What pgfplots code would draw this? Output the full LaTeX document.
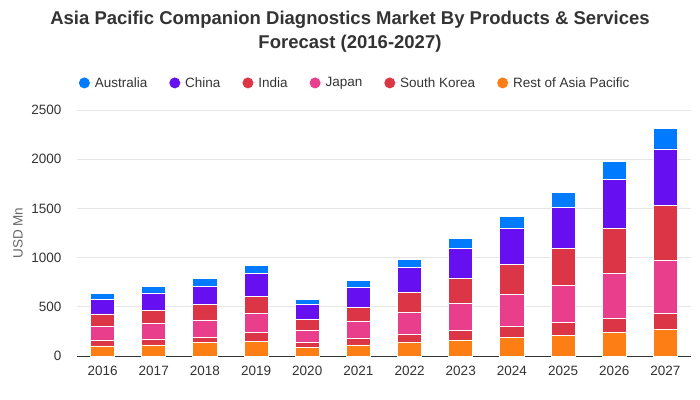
\documentclass[border=0pt]{standalone}
\usepackage{pgfplots}
\pgfplotsset{compat=1.18}
\usepackage{pgfplotstable}
\usepackage{fontspec}
\setmainfont{Liberation Sans}
\definecolor{cAus}{HTML}{007BFF}
\definecolor{cChina}{HTML}{6610F2}
\definecolor{cIndia}{HTML}{DC3545}
\definecolor{cJapan}{HTML}{E83E8C}
\definecolor{cSK}{HTML}{DC3545}
\definecolor{cRest}{HTML}{FD7E14}
\definecolor{txt}{HTML}{333333}
\definecolor{grd}{HTML}{E6E6E6}
\pgfplotstableread{
x rest sk japan india china aus
0 102 61 142 122 152 54
1 112 61 163 129 176 68
2 135 58 173 155 190 74
3 152 84 200 173 234 77
4 91 51 122 112 145 51
5 112 71 173 138 207 64
6 139 81 223 203 254 84
7 159 101 274 254 304 105
8 193 108 325 304 365 125
9 210 132 375 375 422 149
10 241 142 457 457 497 179
11 271 162 538 558 575 213
}\data
\begin{document}
\begin{tikzpicture}[font=\fontsize{13.5bp}{16bp}\selectfont]
\path[use as bounding box] (-77bp,-44bp) rectangle (623bp,356bp);
\begin{axis}[
  at={(0,0)}, anchor=south west,
  scale only axis, width=614bp, height=246bp,
  ybar stacked, bar width=0.47,
  xmin=-0.5, xmax=11.5, ymin=0, ymax=2500,
  xtick=data,
  xticklabels={2016,2017,2018,2019,2020,2021,2022,2023,2024,2025,2026,2027},
  ytick={0,500,1000,1500,2000,2500},
  /pgf/number format/assume math mode=true,
  yticklabel style={/pgf/number format/fixed, /pgf/number format/1000 sep={}, text=txt, xshift=-12bp},
  xticklabel style={text=txt, yshift=-7bp},
  major tick length=0pt,
  ymajorgrids, grid style={grd, line width=0.8bp},
  axis x line*=bottom, axis y line*=left,
  y axis line style={draw=none},
  x axis line style={txt, line width=1bp, -},
  ylabel={USD Mn}, ylabel style={text=black!60, at={(axis description cs:-0.096,0.5)}, anchor=center},
  every axis plot/.append style={draw=white, line width=0.8bp},
  reverse legend,
  legend columns=-1,
  legend style={draw=none, fill=none, at={(axis description cs:0.453,1.11)}, anchor=center,
    text=txt, /tikz/every even column/.append style={column sep=20bp}},
  legend image code/.code={\path (0bp,0bp) -- (13bp,0bp); \fill[#1, draw=none] (5bp,0bp) circle (5.5bp);},
]
\addplot[fill=cRest] table[x=x, y=rest] {\data};
\addplot[fill=cSK] table[x=x, y=sk] {\data};
\addplot[fill=cJapan] table[x=x, y=japan] {\data};
\addplot[fill=cIndia] table[x=x, y=india] {\data};
\addplot[fill=cChina] table[x=x, y=china] {\data};
\addplot[fill=cAus] table[x=x, y=aus] {\data};
\legend{Rest of Asia Pacific, South Korea, Japan, India, China, Australia}
\end{axis}
\node[font=\fontsize{18.5bp}{24bp}\selectfont\bfseries, text=txt, align=center] at (273bp,324bp)
  {Asia Pacific Companion Diagnostics Market By Products \& Services\\Forecast (2016-2027)};
\end{tikzpicture}
\end{document}
